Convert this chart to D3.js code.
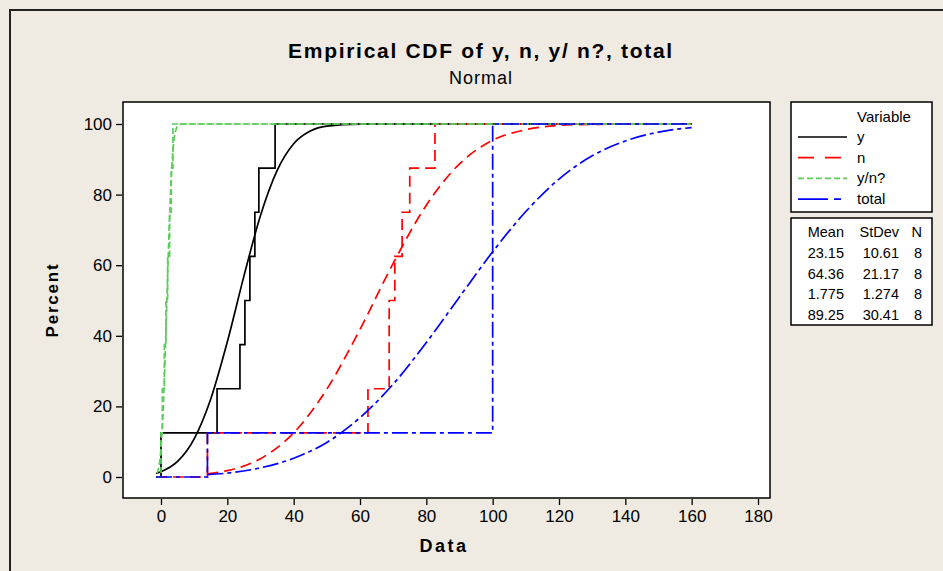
<html>
<head>
  <title>Empirical CDF</title>
  <script src="https://d3js.org/d3.v7.min.js"></script>
  <style>
    body { margin: 0; background: #efebe2; }
    text { font-family: "Liberation Sans", Arial, sans-serif; fill: #000; }
  </style>
</head>
<body>
  <script>

	// variables and legend labels
	var variables = ['y', 'n', 'y/n?', 'total'];
	var colors = ['#000000', '#ff0000', '#5ccc5c', '#0000ff'];
	var dashes = [null, '11,6', '6,3', '16,4,4,4'];

	// data points (8 each)
	var yData = [0, 16.9, 23.8, 25.3, 26.8, 28.3, 29.5, 34.4];
	var nData = [14, 62.4, 68.8, 68.8, 70.5, 72.7, 75, 82.6];
	var ynData = [0, 0.4, 1.0, 1.5, 2.0, 2.6, 3.1, 3.6];
	var totalData = [14, 100, 100, 100, 100, 100, 100, 100];

	// fitted normal curves, [x, percent]
	var yCurve = [[-1.5, 1.0], [0, 1.5], [5, 4.4], [10, 10.8], [15, 22.1], [20, 38.3], [25, 56.9], [30, 74.1],
	              [35, 86.8], [40, 94.4], [45, 98.0], [50, 99.4], [60, 99.97], [70, 100], [160, 100]];
	var nCurve = [[14, 0.9], [20, 1.8], [30, 5.2], [40, 12.5], [50, 24.9], [60, 41.8], [70, 60.5], [80, 77.0],
	              [90, 88.7], [100, 95.4], [110, 98.4], [120, 99.6], [130, 99.9], [160, 100]];
	var ynCurve = [[-1.2, 1.0], [-0.5, 3.7], [0, 8.2], [0.5, 15.8], [1, 27.2], [1.5, 41.5], [2, 57.0], [2.5, 71.5],
	               [3, 83.2], [3.5, 91.2], [4, 96.0], [5, 99.4], [6, 99.95], [7, 100], [160, 100]];
	var totalCurve = [[14, 0.7], [20, 1.1], [30, 2.6], [40, 5.3], [50, 9.8], [60, 16.8], [70, 26.3], [80, 38.1],
	                  [90, 51.0], [100, 63.8], [110, 75.2], [120, 84.4], [130, 91.0], [140, 95.2], [150, 97.7], [160, 99.0]];

	// summary table
	var means = ['23.15', '64.36', '1.775', '89.25'];
	var stdevs = ['10.61', '21.17', '1.274', '30.41'];
	var counts = ['8', '8', '8', '8'];

	var xTicks = [0, 20, 40, 60, 80, 100, 120, 140, 160, 180];
	var yTicks = [0, 20, 40, 60, 80, 100];
	var xMin = -1.5, xMax = 160;

	var svg = d3.select('body')
	            .append('svg')
	              .attr('width', 943)
	              .attr('height', 571);

	// window frame
	svg.append('path')
	  .attr('d', 'M10,571 L10,10 L943,10')
	  .attr('fill', 'none')
	  .attr('stroke', '#222')
	  .attr('stroke-width', 2);

	var x = d3.scaleLinear().domain([0, 180]).range([161, 758]);
	var y = d3.scaleLinear().domain([0, 100]).range([477, 124]);

	// plot box
	svg.append('rect')
	  .attr('x', 123).attr('y', 102)
	  .attr('width', 647).attr('height', 396)
	  .attr('fill', '#fff')
	  .attr('stroke', '#000')
	  .attr('stroke-width', 1.5);

	// axes
	var xAxis = svg.append('g')
	  .attr('transform', 'translate(0,499)')
	  .call(d3.axisBottom(x).tickValues(xTicks).tickSize(6).tickPadding(5));
	var yAxis = svg.append('g')
	  .attr('transform', 'translate(122,0)')
	  .call(d3.axisLeft(y).tickValues(yTicks).tickSize(6).tickPadding(4));
	svg.selectAll('.domain').remove();
	svg.selectAll('.tick line').attr('stroke', '#000').attr('stroke-width', 1.3);
	svg.selectAll('.tick text')
	  .style('font-family', '"Liberation Sans", Arial, sans-serif')
	  .style('font-size', '17px')
	  .attr('fill', '#000');

	// titles
	svg.append('text')
	  .attr('x', 481).attr('y', 58)
	  .attr('text-anchor', 'middle')
	  .style('font-size', '21px')
	  .style('font-weight', 'bold')
	  .style('letter-spacing', '1.7px')
	  .text('Empirical CDF of y, n, y/ n?, total');
	svg.append('text')
	  .attr('x', 481).attr('y', 84)
	  .attr('text-anchor', 'middle')
	  .style('font-size', '18px')
	  .style('letter-spacing', '1px')
	  .text('Normal');
	svg.append('text')
	  .attr('x', 444).attr('y', 552)
	  .attr('text-anchor', 'middle')
	  .style('font-size', '18px')
	  .style('font-weight', 'bold')
	  .style('letter-spacing', '2.5px')
	  .text('Data');
	svg.append('text')
	  .attr('transform', 'translate(58,300) rotate(-90)')
	  .attr('text-anchor', 'middle')
	  .style('font-size', '17px')
	  .style('font-weight', 'bold')
	  .style('letter-spacing', '1.8px')
	  .text('Percent');

	var plot = svg.append('g');

	// smooth fitted curves, stepped empirical CDFs
	var line = d3.line()
	  .x(function(d){ return x(d[0]); })
	  .y(function(d){ return y(d[1]); })
	  .curve(d3.curveMonotoneX);
	var stepLine = d3.line()
	  .x(function(d){ return x(d[0]); })
	  .y(function(d){ return y(d[1]); })
	  .curve(d3.curveStepAfter);

	function steps(values){
	  var sorted = values.slice().sort(d3.ascending);
	  var pts = [[xMin, 0]];
	  sorted.forEach(function(v, i){
	    pts.push([v, (i + 1) / sorted.length * 100]);
	  });
	  pts.push([xMax, 100]);
	  return pts;
	}

	var allData = [yData, nData, ynData, totalData];
	var allCurves = [yCurve, nCurve, ynCurve, totalCurve];

	allData.forEach(function(vals, i){
	  plot.append('path')
	    .attr('d', line(allCurves[i]))
	    .attr('fill', 'none')
	    .attr('stroke', colors[i])
	    .attr('stroke-width', 1.7)
	    .attr('stroke-dasharray', dashes[i]);
	  plot.append('path')
	    .attr('d', stepLine(steps(vals)))
	    .attr('fill', 'none')
	    .attr('stroke', colors[i])
	    .attr('stroke-width', 1.7)
	    .attr('stroke-dasharray', dashes[i]);
	});

	// legend box
	var legend = svg.append('g');
	legend.append('rect')
	  .attr('x', 791).attr('y', 102)
	  .attr('width', 141).attr('height', 110)
	  .attr('fill', '#fff')
	  .attr('stroke', '#000')
	  .attr('stroke-width', 1.5);
	legend.append('text')
	  .attr('x', 857).attr('y', 122)
	  .style('font-size', '15px')
	  .text('Variable');
	var items = legend.selectAll('g.item')
	  .data(variables)
	  .enter()
	  .append('g')
	    .attr('class', 'item')
	    .attr('transform', function(d, i){ return 'translate(0,' + (137 + i * 20.7) + ')'; });
	items.append('line')
	  .attr('x1', 798).attr('x2', 847)
	  .attr('stroke', function(d, i){ return colors[i]; })
	  .attr('stroke-width', 1.7)
	  .attr('stroke-dasharray', function(d, i){ return i == 1 ? '16,11' : i == 3 ? '30,6,7,6' : dashes[i]; });
	items.append('text')
	  .attr('x', 857).attr('y', 5)
	  .style('font-size', '15px')
	  .text(function(d){ return d; });

	// stats box
	var stats = svg.append('g');
	stats.append('rect')
	  .attr('x', 791).attr('y', 218)
	  .attr('width', 141).attr('height', 107)
	  .attr('fill', '#fff')
	  .attr('stroke', '#000')
	  .attr('stroke-width', 1.5);
	var cols = [844, 899, 922];
	var headers = ['Mean', 'StDev', 'N'];
	headers.forEach(function(h, j){
	  stats.append('text')
	    .attr('x', cols[j]).attr('y', 237)
	    .attr('text-anchor', 'end')
	    .style('font-size', '14.5px')
	    .text(h);
	});
	[means, stdevs, counts].forEach(function(col, j){
	  stats.selectAll(null)
	    .data(col)
	    .enter()
	    .append('text')
	      .attr('x', cols[j])
	      .attr('y', function(d, i){ return 258 + i * 20.7; })
	      .attr('text-anchor', 'end')
	      .style('font-size', '14.5px')
	      .text(function(d){ return d; });
	});

  </script>
</body>
</html>
